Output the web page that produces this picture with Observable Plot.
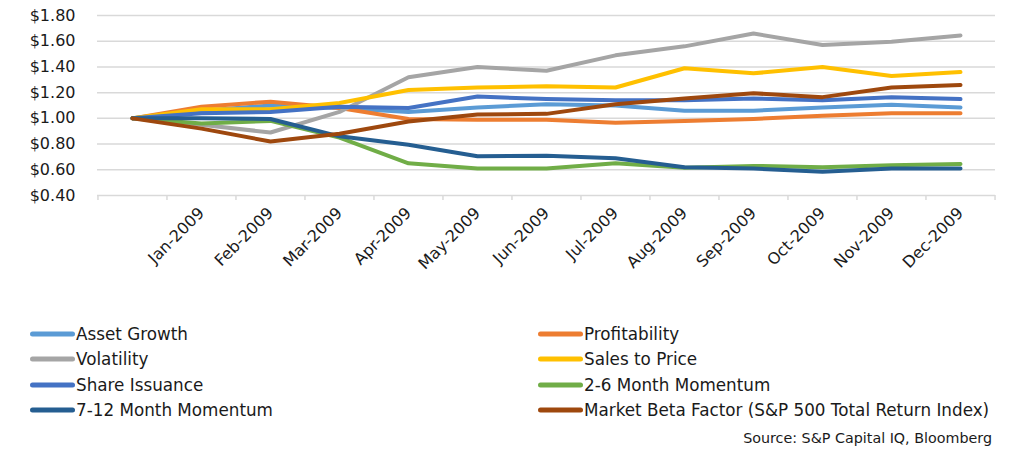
<!DOCTYPE html>
<html>
<head>
<meta charset="utf-8">
<script src="https://cdn.jsdelivr.net/npm/d3@7"></script>
<script src="https://cdn.jsdelivr.net/npm/@observablehq/plot@0.6"></script>
<style>
  html, body { margin: 0; padding: 0; background: #ffffff; }
  body { width: 1018px; height: 463px; position: relative; overflow: hidden; font-family: "DejaVu Sans", sans-serif; color: #1a1a1a; }
  #chart { position: absolute; left: 0; top: 0; }
  .leg { position: absolute; display: flex; align-items: center; font-size: 16.8px; white-space: nowrap; }
  .leg svg { display: block; margin-right: 1px; }
  #source { position: absolute; right: 26px; top: 430px; font-size: 14.3px; white-space: nowrap; }
</style>
</head>
<body>
<div id="chart"></div>
<div id="legend"></div>
<div id="source"></div>
<script>
// ---- data ----
const categories = ["", "Jan-2009", "Feb-2009", "Mar-2009", "Apr-2009", "May-2009", "Jun-2009",
  "Jul-2009", "Aug-2009", "Sep-2009", "Oct-2009", "Nov-2009", "Dec-2009"];
const seriesNames = ["Asset Growth", "Profitability", "Volatility", "Sales to Price",
  "Share Issuance", "2-6 Month Momentum", "7-12 Month Momentum",
  "Market Beta Factor (S&P 500 Total Return Index)"];
const seriesColors = ["#5B9BD5", "#ED7D31", "#A5A5A5", "#FFC000", "#4472C4", "#70AD47", "#255E91", "#9E480E"];
const assetGrowth   = [1.00, 1.06, 1.10, 1.08, 1.05, 1.085, 1.11, 1.10, 1.06, 1.06, 1.085, 1.105, 1.085];
const profitability = [1.00, 1.09, 1.13, 1.08, 0.995, 0.99, 0.99, 0.965, 0.98, 0.995, 1.02, 1.04, 1.04];
const volatility    = [1.00, 0.95, 0.89, 1.05, 1.32, 1.40, 1.37, 1.49, 1.56, 1.66, 1.57, 1.595, 1.645];
const salesToPrice  = [1.00, 1.07, 1.07, 1.12, 1.22, 1.24, 1.25, 1.24, 1.39, 1.35, 1.40, 1.33, 1.36];
const shareIssuance = [1.00, 1.04, 1.05, 1.09, 1.08, 1.17, 1.15, 1.14, 1.14, 1.155, 1.14, 1.165, 1.15];
const momentum2to6  = [1.00, 0.96, 0.98, 0.85, 0.65, 0.61, 0.61, 0.65, 0.615, 0.63, 0.62, 0.635, 0.645];
const momentum7to12 = [1.00, 1.00, 0.995, 0.86, 0.795, 0.705, 0.71, 0.69, 0.62, 0.61, 0.585, 0.61, 0.61];
const marketBeta    = [1.00, 0.92, 0.82, 0.88, 0.975, 1.03, 1.035, 1.11, 1.155, 1.195, 1.165, 1.24, 1.26];
const yTicks = [0.4, 0.6, 0.8, 1.0, 1.2, 1.4, 1.6, 1.8];
const sourceText = "Source: S&P Capital IQ, Bloomberg";

const seriesValues = [assetGrowth, profitability, volatility, salesToPrice,
  shareIssuance, momentum2to6, momentum7to12, marketBeta];
const rows = [];
seriesNames.forEach((name, s) => {
  categories.forEach((m, i) => rows.push({series: name, month: m, value: seriesValues[s][i]}));
});

const W = 1018, H = 300, mL = 97, mR = 23, mT = 15, mB = 105;
const halfStep = (W - mL - mR) / categories.length / 2;
const fmt = d => "$" + d.toFixed(2);

const chart = Plot.plot({
  width: W, height: H,
  marginLeft: mL, marginRight: mR, marginTop: mT, marginBottom: mB,
  style: {fontFamily: "'DejaVu Sans', sans-serif", color: "#1a1a1a", background: "#ffffff"},
  x: {type: "point", domain: categories, padding: 0.5, label: null},
  y: {domain: [0.4, 1.8], label: null},
  color: {domain: seriesNames, range: seriesColors},
  marks: [
    Plot.gridY(yTicks, {stroke: "#d9d9d9", strokeOpacity: 1, strokeWidth: 1.5}),
    Plot.ruleX(categories, {x: d => d, dx: -halfStep, y1: 0.4, y2: 0.4, insetBottom: -5, stroke: "#d9d9d9", strokeWidth: 1.5}),
    Plot.ruleX(categories.slice(-1), {x: d => d, dx: halfStep, y1: 0.4, y2: 0.4, insetBottom: -5, stroke: "#d9d9d9", strokeWidth: 1.5}),
    Plot.axisY(yTicks, {tickSize: 0, tickPadding: 22, tickFormat: fmt, fontSize: 16, fill: "#1a1a1a"}),
    Plot.axisX({tickSize: 0, tickPadding: 15, tickRotate: -45, fontSize: 16, fill: "#1a1a1a"}),
    Plot.line(rows, {x: "month", y: "value", z: "series", stroke: "series", strokeWidth: 4,
      strokeLinejoin: "round", strokeLinecap: "round"})
  ]
});
document.getElementById("chart").appendChild(chart);

// ---- legend ----
const legend = document.getElementById("legend");
const colX = [30, 538];
const rowY = [334, 359, 385, 410];
seriesNames.forEach((name, i) => {
  const col = i % 2, row = Math.floor(i / 2);
  const div = document.createElement("div");
  div.className = "leg";
  div.style.left = colX[col] + "px";
  div.style.top = (rowY[row] - 11) + "px";
  div.style.height = "22px";
  div.innerHTML = `<svg width="45" height="10"><line x1="2.5" y1="5" x2="42.5" y2="5" stroke="${seriesColors[i]}" stroke-width="5" stroke-linecap="round"/></svg><span></span>`;
  div.querySelector("span").textContent = name;
  legend.appendChild(div);
});
document.getElementById("source").textContent = sourceText;
</script>
</body>
</html>
